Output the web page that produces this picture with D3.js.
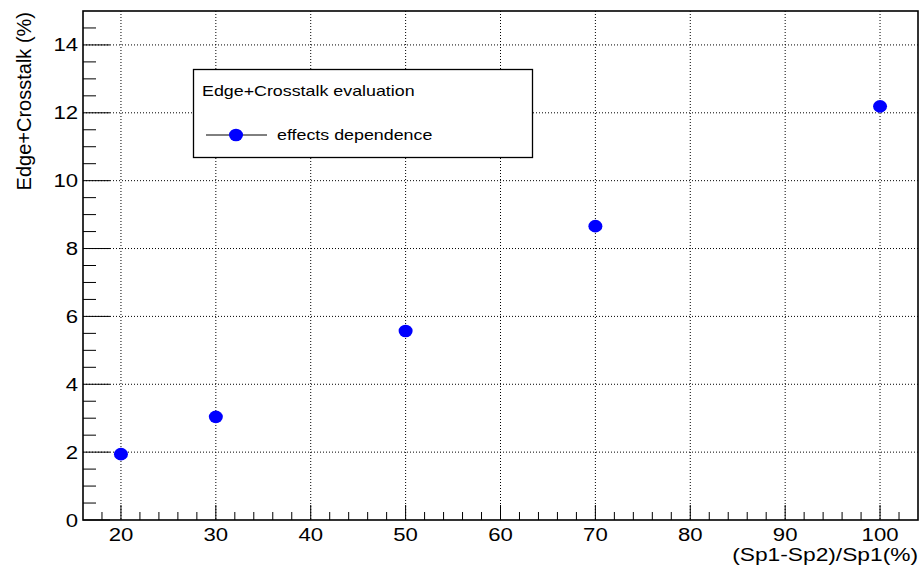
<!DOCTYPE html>
<html>
<head>
<meta charset="utf-8">
<script src="https://cdn.jsdelivr.net/npm/d3@7"></script>
<style>
  body { margin: 0; background: #fff; }
  text { font-family: "Liberation Sans", Arial, sans-serif; fill: #000; }
</style>
</head>
<body>
<div id="paper"></div>
<script>
// data
const xValues = [20, 30, 50, 70, 100];
const yValues = [1.94, 3.04, 5.57, 8.66, 12.19];
const xTicks = [20, 30, 40, 50, 60, 70, 80, 90, 100];
const yTicks = [0, 2, 4, 6, 8, 10, 12, 14];
const seriesName = "effects dependence";
const legendTitle = "Edge+Crosstalk evaluation";

const W = 920, H = 568;
const padL = 83, padR = 918, padT = 11, padB = 520;
const sx = 1.23; // the original text looks stretched sideways

const x = d3.scaleLinear().domain([16, 104]).range([padL, padR]);
const y = d3.scaleLinear().domain([0, 15]).range([padB, padT]);

const svg = d3.select("#paper")
  .append("svg")
  .attr("id", "canvas")
  .attr("width", W)
  .attr("height", H);

// grid
svg.append("g")
  .selectAll("line")
  .data(xTicks)
  .join("line")
  .attr("x1", d => x(d)).attr("x2", d => x(d))
  .attr("y1", padT).attr("y2", padB)
  .attr("stroke", "#000")
  .attr("stroke-width", 1)
  .attr("stroke-dasharray", "1,2");

svg.append("g")
  .selectAll("line")
  .data(yTicks.filter(d => d > 0))
  .join("line")
  .attr("x1", padL).attr("x2", padR)
  .attr("y1", d => y(d)).attr("y2", d => y(d))
  .attr("stroke", "#000")
  .attr("stroke-width", 1)
  .attr("stroke-dasharray", "1,2");

// minor ticks
const xMinor = d3.range(18, 104, 2).filter(d => d % 10 !== 0);
const yMinor = d3.range(0.5, 15, 0.5).filter(d => d % 2 !== 0);

svg.append("g")
  .selectAll("line")
  .data(xMinor)
  .join("line")
  .attr("x1", d => x(d)).attr("x2", d => x(d))
  .attr("y1", padB).attr("y2", padB - 8)
  .attr("stroke", "#000").attr("stroke-width", 1);

svg.append("g")
  .selectAll("line")
  .data(xTicks)
  .join("line")
  .attr("x1", d => x(d)).attr("x2", d => x(d))
  .attr("y1", padB).attr("y2", padB - 15)
  .attr("stroke", "#000").attr("stroke-width", 1);

svg.append("g")
  .selectAll("line")
  .data(yMinor)
  .join("line")
  .attr("x1", padL).attr("x2", padL + 13)
  .attr("y1", d => y(d)).attr("y2", d => y(d))
  .attr("stroke", "#000").attr("stroke-width", 1);

svg.append("g")
  .selectAll("line")
  .data(yTicks)
  .join("line")
  .attr("x1", padL).attr("x2", padL + 27)
  .attr("y1", d => y(d)).attr("y2", d => y(d))
  .attr("stroke", "#000").attr("stroke-width", 1);

// tick labels
svg.append("g")
  .selectAll("text")
  .data(xTicks)
  .join("text")
  .attr("transform", d => "translate(" + x(d) + ",541) scale(" + sx + ",1)")
  .attr("text-anchor", "middle")
  .attr("font-size", "18px")
  .text(d => d);

svg.append("g")
  .selectAll("text")
  .data(yTicks)
  .join("text")
  .attr("transform", d => "translate(78," + (y(d) + 6.5) + ") scale(" + sx + ",1)")
  .attr("text-anchor", "end")
  .attr("font-size", "18px")
  .text(d => d);

// frame
svg.append("rect")
  .attr("x", padL).attr("y", padT)
  .attr("width", padR - padL).attr("height", padB - padT)
  .attr("fill", "none")
  .attr("stroke", "#000")
  .attr("stroke-width", 1.6);

// axis titles
svg.append("text")
  .attr("transform", "translate(" + padR + ",561) scale(" + sx + ",1)")
  .attr("text-anchor", "end")
  .attr("font-size", "18.5px")
  .text("(Sp1-Sp2)/Sp1(%)");

svg.append("text")
  .attr("transform", "translate(31," + (padT + 1) + ") rotate(-90)")
  .attr("text-anchor", "end")
  .attr("font-size", "20px")
  .text("Edge+Crosstalk (%)");

// points
svg.append("g")
  .selectAll("ellipse")
  .data(xValues.map((d, i) => [d, yValues[i]]))
  .join("ellipse")
  .attr("cx", d => x(d[0]))
  .attr("cy", d => y(d[1]))
  .attr("rx", 7)
  .attr("ry", 6.3)
  .attr("fill", "#0000ff");

// legend
const legend = svg.append("g");
legend.append("rect")
  .attr("x", 193.5).attr("y", 69.5)
  .attr("width", 339).attr("height", 88)
  .attr("fill", "#fff")
  .attr("stroke", "#000")
  .attr("stroke-width", 1.3);
legend.append("text")
  .attr("transform", "translate(202,96) scale(" + sx + ",1)")
  .attr("font-size", "14.5px")
  .text(legendTitle);
legend.append("line")
  .attr("x1", 206).attr("x2", 267)
  .attr("y1", 135).attr("y2", 135)
  .attr("stroke", "#000");
legend.append("ellipse")
  .attr("cx", 236).attr("cy", 135)
  .attr("rx", 7).attr("ry", 6.3)
  .attr("fill", "#0000ff");
legend.append("text")
  .attr("transform", "translate(277,139.5) scale(" + sx + ",1)")
  .attr("font-size", "14.5px")
  .text(seriesName);
</script>
</body>
</html>
